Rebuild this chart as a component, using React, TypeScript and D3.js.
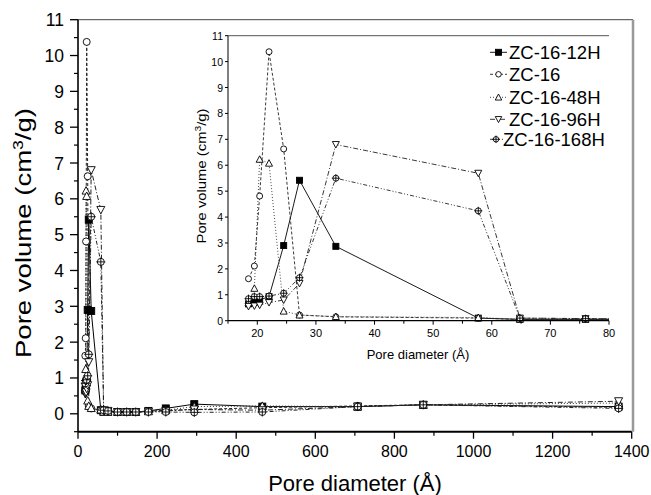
import React from "react";
import * as d3 from "d3";

const diameters = [18.5, 19.5, 20.4, 22.0, 24.5, 27.2, 33.4, 57.7, 64.8, 76, 100, 123, 146, 178, 222, 294, 466, 707, 873, 1367];
const zc16_12H = [0.65, 0.72, 0.8, 0.93, 2.9, 5.42, 2.87, 0.1, 0.05, 0.05, 0.05, 0.05, 0.05, 0.08, 0.15, 0.27, 0.2, 0.2, 0.25, 0.2];
const zc16 = [1.62, 2.11, 4.81, 10.38, 6.63, 0.22, 0.15, 0.1, 0.05, 0.05, 0.05, 0.05, 0.05, 0.07, 0.1, 0.12, 0.17, 0.22, 0.25, 0.18];
const zc16_48H = [0.69, 1.25, 6.23, 6.08, 0.37, 0.22, 0.16, 0.12, 0.06, 0.06, 0.05, 0.05, 0.05, 0.07, 0.1, 0.2, 0.22, 0.2, 0.25, 0.3];
const zc16_96H = [0.55, 0.57, 0.6, 0.7, 0.8, 1.44, 6.8, 5.69, 0.1, 0.08, 0.05, 0.05, 0.05, 0.06, 0.08, 0.12, 0.1, 0.2, 0.25, 0.35];
const zc16_168H = [0.85, 0.93, 0.93, 0.95, 1.06, 1.66, 5.5, 4.24, 0.1, 0.08, 0.05, 0.05, 0.05, 0.05, 0.05, 0.04, 0.05, 0.2, 0.25, 0.15];

const seriesNames = ["ZC-16-12H", "ZC-16", "ZC-16-48H", "ZC-16-96H", "ZC-16-168H"];
const seriesValues = [zc16_12H, zc16, zc16_48H, zc16_96H, zc16_168H];
const seriesMarkers = ["square", "circle", "up", "down", "crosscircle"];
const seriesDash = ["", "3,2", "1,2", "5,2,1,2", "4,2,1,2,1,2"];
const seriesColor = ["#000", "#222", "#333", "#222", "#222"];

const mainXTicks = [0, 200, 400, 600, 800, 1000, 1200, 1400];
const mainYTicks = [0, 1, 2, 3, 4, 5, 6, 7, 8, 9, 10, 11];
const insetXTicks = [20, 30, 40, 50, 60, 70, 80];
const insetYTicks = [0, 1, 2, 3, 4, 5, 6, 7, 8, 9, 10, 11];

const FONT = "Liberation Sans, Arial, sans-serif";

function Marker({ type, x, y, s }: { type: string; x: number; y: number; s: number }) {
  const h = s / 2;
  const st = { stroke: "#000", strokeWidth: 0.9 };
  if (type === "square") return <rect x={x - h} y={y - h} width={s} height={s} fill="#000" {...st} />;
  if (type === "circle") return <circle cx={x} cy={y} r={h} fill="#fff" {...st} />;
  if (type === "up")
    return <path d={`M${x},${y - h - 0.5}L${x + h + 0.5},${y + h}L${x - h - 0.5},${y + h}Z`} fill="#fff" {...st} />;
  if (type === "down")
    return <path d={`M${x},${y + h + 0.5}L${x + h + 0.5},${y - h}L${x - h - 0.5},${y - h}Z`} fill="#fff" {...st} />;
  return (
    <g>
      <circle cx={x} cy={y} r={h} fill="#fff" {...st} />
      <path d={`M${x - h - 1},${y}H${x + h + 1}M${x},${y - h - 1}V${y + h + 1}`} {...st} fill="none" />
    </g>
  );
}

export default function App() {
  const W = 651, H = 495;
  const x = d3.scaleLinear().domain([0, 1400]).range([78, 631.7]);
  const y = d3.scaleLinear().domain([-0.5, 11]).range([431.7, 19.7]);
  const ix = d3.scaleLinear().domain([15, 80]).range([228, 609]);
  const iy = d3.scaleLinear().domain([0, 11]).range([320.7, 35.7]);

  const mainLine = d3.line<number>().x((_, i) => x(diameters[i])).y((v) => y(v));
  const insetLine = d3.line<number>().x((_, i) => ix(diameters[i])).y((v) => iy(v));

  const minorX = d3.range(100, 1400, 200);
  const minorY = d3.range(-0.5, 11, 1);
  const insetMinorX = d3.range(15, 80, 10);

  const legendRows = [52.3, 74.3, 97.3, 119.3, 139.3];

  return (
    <div style={{ position: "fixed", left: 0, top: 0, width: W, height: H, background: "#fff" }}>
      <svg width={W} height={H} style={{ display: "block", fontFamily: FONT }}>
        <rect width={W} height={H} fill="#fff" />
        <defs>
          <clipPath id="insetClip">
            <rect x={ix(15) - 4} y={iy(11)} width={ix(80) - ix(15) + 4} height={iy(0) - iy(11) + 6} />
          </clipPath>
        </defs>

        {/* main frame */}
        <line x1={x(0)} x2={633} y1={y(11)} y2={y(11)} stroke="#444" strokeWidth={1} />
        <line x1={633} x2={633} y1={y(11)} y2={y(-0.5)} stroke="#999" strokeWidth={2.5} />

        {/* main data */}
        {seriesValues.map((vals, si) => (
          <path key={"ml" + si} d={mainLine(vals) || ""} fill="none" stroke={seriesColor[si]}
            strokeWidth={1} strokeDasharray={seriesDash[si]} />
        ))}
        {seriesValues.map((vals, si) => (
          <g key={"mm" + si}>
            {vals.map((v, i) => (
              <Marker key={i} type={seriesMarkers[si]} x={x(diameters[i])} y={y(v)} s={7} />
            ))}
          </g>
        ))}

        {/* main axes */}
        <line x1={x(0)} x2={x(0)} y1={y(11)} y2={y(-0.5)} stroke="#000" strokeWidth={1.6} />
        <line x1={x(0)} x2={x(1400)} y1={y(-0.5)} y2={y(-0.5)} stroke="#000" strokeWidth={2} />
        {mainYTicks.map((t) => (
          <g key={"yt" + t}>
            <line x1={x(0) - 8} x2={x(0)} y1={y(t)} y2={y(t)} stroke="#000" strokeWidth={1.3} />
            <text x={64} y={y(t) + 6.5} textAnchor="end" fontSize={17.5}>{t}</text>
          </g>
        ))}
        {minorY.map((t) => (
          <line key={"ym" + t} x1={x(0) - 4} x2={x(0)} y1={y(t)} y2={y(t)} stroke="#000" strokeWidth={1.2} />
        ))}
        {mainXTicks.map((t) => (
          <g key={"xt" + t}>
            <line x1={x(t)} x2={x(t)} y1={y(-0.5)} y2={y(-0.5) + 7} stroke="#000" strokeWidth={1.3} />
            <text x={x(t)} y={457} textAnchor="middle" fontSize={16}>{t}</text>
          </g>
        ))}
        {minorX.map((t) => (
          <line key={"xm" + t} x1={x(t)} x2={x(t)} y1={y(-0.5)} y2={y(-0.5) + 4} stroke="#000" strokeWidth={1.2} />
        ))}
        <text x={355} y={491} textAnchor="middle" fontSize={22}>Pore diameter (Å)</text>
        <text transform="translate(31,233) rotate(-90)" textAnchor="middle" fontSize={22}
          textLength={250} lengthAdjust="spacingAndGlyphs">
          Pore volume (cm<tspan dy={-8} fontSize={14}>3</tspan><tspan dy={8}>/g)</tspan>
        </text>

        {/* inset */}
        <rect x={ix(15)} y={iy(11)} width={ix(80) - ix(15)} height={iy(0) - iy(11)} fill="#fff" />
        <line x1={ix(15)} x2={ix(80)} y1={iy(11)} y2={iy(11)} stroke="#555" strokeWidth={1} />
        <g clipPath="url(#insetClip)">
          {seriesValues.map((vals, si) => (
            <path key={"il" + si} d={insetLine(vals) || ""} fill="none" stroke={seriesColor[si]}
              strokeWidth={0.9} strokeDasharray={seriesDash[si]} />
          ))}
          {seriesValues.map((vals, si) => (
            <g key={"im" + si}>
              {vals.map((v, i) =>
                diameters[i] <= 80 ? (
                  <Marker key={i} type={seriesMarkers[si]} x={ix(diameters[i])} y={iy(v)} s={6} />
                ) : null
              )}
            </g>
          ))}
        </g>
        <line x1={ix(15)} x2={ix(15)} y1={iy(11)} y2={iy(0)} stroke="#000" strokeWidth={1} />
        <line x1={ix(15)} x2={ix(80)} y1={iy(0)} y2={iy(0)} stroke="#000" strokeWidth={1.2} />
        {insetXTicks.map((t) => (
          <g key={"ixt" + t}>
            <line x1={ix(t)} x2={ix(t)} y1={iy(0)} y2={iy(0) + 4} stroke="#000" strokeWidth={1} />
            <text x={ix(t)} y={337} textAnchor="middle" fontSize={11}>{t}</text>
          </g>
        ))}
        {insetMinorX.map((t) => (
          <line key={"ixm" + t} x1={ix(t)} x2={ix(t)} y1={iy(0)} y2={iy(0) + 3} stroke="#000" strokeWidth={1} />
        ))}
        {insetYTicks.map((t) => (
          <g key={"iyt" + t}>
            <line x1={ix(15) - 3} x2={ix(15)} y1={iy(t)} y2={iy(t)} stroke="#000" strokeWidth={1} />
            <text x={ix(15) - 5} y={iy(t) + 4} textAnchor="end" fontSize={10.5}>{t}</text>
          </g>
        ))}
        <text x={418} y={359} textAnchor="middle" fontSize={13}>Pore diameter (Å)</text>
        <text transform="translate(206,176) rotate(-90)" textAnchor="middle" fontSize={13}
          textLength={135} lengthAdjust="spacingAndGlyphs">
          Pore volume (cm<tspan dy={-5} fontSize={9}>3</tspan><tspan dy={5}>/g)</tspan>
        </text>

        {/* legend */}
        {seriesNames.map((name, si) => {
          const last = si === seriesNames.length - 1;
          const x0 = 490, x1 = last ? 503 : 507;
          const cx = last ? 496 : 498.5;
          const cy = legendRows[si];
          return (
            <g key={"lg" + si}>
              <line x1={x0} x2={x1} y1={cy} y2={cy} stroke={seriesColor[si]} strokeWidth={0.9}
                strokeDasharray={seriesDash[si]} />
              <Marker type={seriesMarkers[si]} x={cx} y={cy} s={si === 0 ? 6 : 5.5} />
              <text x={last ? 503 : 509} y={cy + 6.5} fontSize={18.5}>{name}</text>
            </g>
          );
        })}
      </svg>
    </div>
  );
}
